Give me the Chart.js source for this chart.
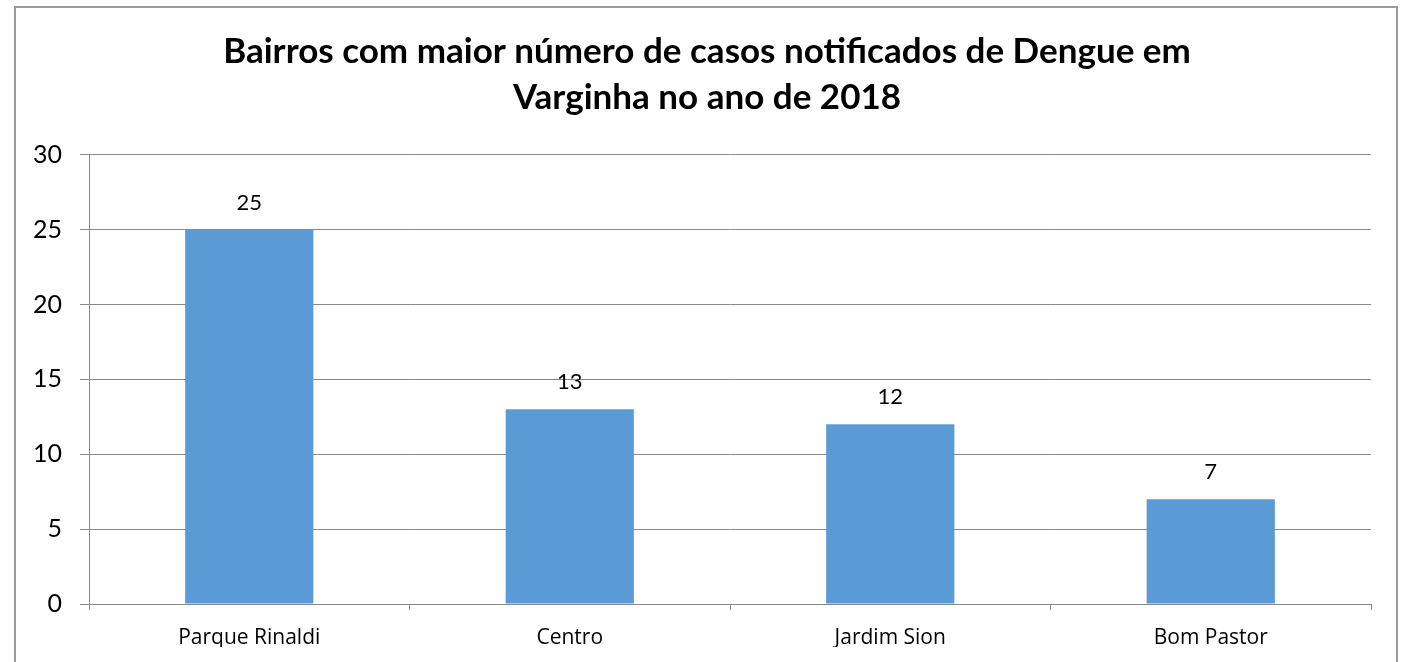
<!DOCTYPE html>
<html>
<head>
<meta charset="utf-8">
<script src="https://cdn.jsdelivr.net/npm/chart.js@4/dist/chart.umd.min.js"></script>
<style>
  html, body { margin: 0; padding: 0; background: #fff; }
  #wrap { width: 1404px; height: 662px; }
</style>
</head>
<body>
<div id="wrap"><canvas id="chart" width="1404" height="662"></canvas></div>
<script>
// Chart data
const bairros = ['Parque Rinaldi', 'Centro', 'Jardim Sion', 'Bom Pastor'];
const casos = [25, 13, 12, 7];
const yTicks = [0, 5, 10, 15, 20, 25, 30];

const gridColor = '#898989';
const fontFamily = 'Lato, "Open Sans", sans-serif';

// Outer frame around the whole chart
const framePlugin = {
  id: 'frame',
  beforeDraw(chart) {
    const ctx = chart.ctx;
    ctx.save();
    ctx.strokeStyle = '#9a9a9a';
    ctx.lineWidth = 2;
    ctx.strokeRect(15, 7, 1382, 700);
    ctx.restore();
  }
};

// Value labels above each bar
const valueLabels = {
  id: 'valueLabels',
  afterDatasetsDraw(chart) {
    const ctx = chart.ctx;
    const meta = chart.getDatasetMeta(0);
    ctx.save();
    ctx.fillStyle = '#000';
    ctx.font = '22px ' + fontFamily;
    ctx.textAlign = 'center';
    ctx.textBaseline = 'middle';
    meta.data.forEach((bar, i) => {
      ctx.fillText(String(casos[i]), bar.x, bar.y - 27);
    });
    ctx.restore();
  }
};

new Chart(document.getElementById('chart'), {
  type: 'bar',
  data: {
    labels: bairros,
    datasets: [{
      data: casos,
      backgroundColor: '#5B9BD5',
      borderWidth: 0,
      categoryPercentage: 1,
      barPercentage: 0.4
    }]
  },
  options: {
    responsive: false,
    animation: false,
    layout: { padding: { left: 30, right: 20, top: 0, bottom: 15 } },
    plugins: {
      legend: { display: false },
      tooltip: { enabled: false },
      title: {
        display: true,
        text: ['Bairros com maior número de casos notificados de Dengue em', 'Varginha no ano de 2018'],
        color: '#000',
        font: { family: fontFamily, size: 35, weight: 'bold', lineHeight: 1.31 },
        padding: { top: 29, bottom: 34 }
      }
    },
    scales: {
      y: {
        min: 0,
        max: 30,
        afterBuildTicks(scale) {
          scale.ticks = yTicks.map(v => ({ value: v }));
        },
        afterFit(scale) { scale.width = 59; },
        ticks: { color: '#000', padding: 18, font: { family: fontFamily, size: 25 } },
        grid: { color: gridColor, tickLength: 9, lineWidth: 1 },
        border: { color: gridColor }
      },
      // empty spacer on the right so the title centres like the original
      spacer: {
        type: 'linear',
        position: 'right',
        afterFit(scale) { scale.width = 13; },
        ticks: { display: false },
        grid: { display: false },
        border: { display: false }
      },
      x: {
        afterFit(scale) { scale.height = 43; },
        ticks: { color: '#000', padding: 15, font: { family: '"Open Sans", sans-serif', size: 21 } },
        grid: { drawOnChartArea: false, color: gridColor, tickLength: 6 },
        border: { color: gridColor }
      }
    }
  },
  plugins: [framePlugin, valueLabels]
});
</script>
</body>
</html>
